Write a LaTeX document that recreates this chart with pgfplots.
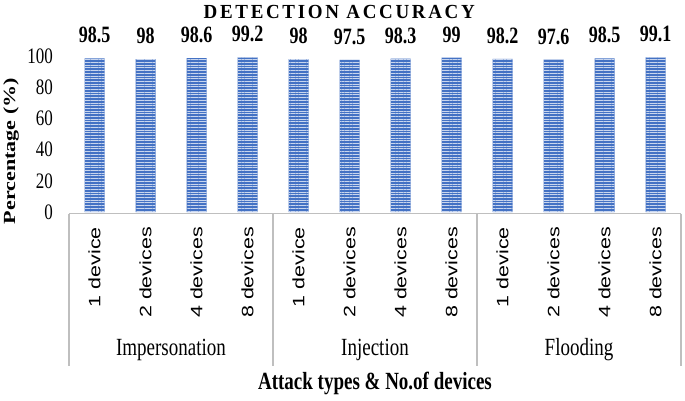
\documentclass[border=0pt]{standalone}
\usepackage{fontspec}
\setmainfont{Liberation Serif}
\setsansfont{Liberation Sans}
\newfontfamily\titlefont[LetterSpace=14]{Liberation Serif}
\usepackage{pgfplots}
\pgfplotsset{compat=1.18}
\usetikzlibrary{patterns.meta}
\definecolor{barblue}{HTML}{4472C4}
\definecolor{stripe}{HTML}{C9D6EE}
\definecolor{boxgray}{HTML}{BFBFBF}
% the source image is stretched vertically, so text is too
\newcommand\tall[2]{\scalebox{1}[#1]{#2}}
\newcommand\dev[1]{\scalebox{1.3}[1]{#1}}
\begin{document}
\begin{tikzpicture}
\begin{axis}[
    name=ax,
    scale only axis,
    width=612pt, height=156pt,
    xmin=-0.5, xmax=11.5, ymin=0, ymax=100,
    ybar, bar width=20pt,
    clip=false,
    axis line style={draw=none},
    major tick length=0pt,
    /pgf/number format/assume math mode=true,
    ytick={0,20,...,100},
    yticklabel={\tall{1.3}{\pgfmathprintnumber{\tick}}},
    yticklabel style={font=\fontsize{17}{20}\selectfont, anchor=east, inner sep=0pt, xshift=-16pt},
    xtick={0,...,11},
    xticklabels={\dev{1 device},\dev{2 devices},\dev{4 devices},\dev{8 devices},
                 \dev{1 device},\dev{2 devices},\dev{4 devices},\dev{8 devices},
                 \dev{1 device},\dev{2 devices},\dev{4 devices},\dev{8 devices}},
    xticklabel style={font=\sffamily\fontsize{16.5}{18}\selectfont, rotate=90, anchor=east, inner sep=0pt, xshift=-15pt},
    nodes near coords={\tall{1.3}{\pgfmathprintnumber{\pgfplotspointmeta}}},
    nodes near coords style={font=\bfseries\fontsize{18}{20}\selectfont, anchor=south, inner sep=0pt, yshift=15pt, text=black},
]
\addplot[fill=barblue, draw=none,
    postaction={pattern={Lines[angle=0,distance=2.7pt,line width=0.9pt]}, pattern color=stripe}]
  coordinates {(0,98.5) (1,98) (2,98.6) (3,99.2)
               (4,98) (5,97.5) (6,98.3) (7,99)
               (8,98.2) (9,97.6) (10,98.5) (11,99.1)};

% category box below the bars
\draw[boxgray, line width=1.5pt] ([yshift=-1.5pt]axis cs:-0.5,0) -- ([yshift=-1.5pt]axis cs:11.5,0);
\draw[boxgray, line width=1.5pt] ([yshift=-1.5pt]axis cs:-0.5,0) -- ([yshift=-153.5pt]axis cs:-0.5,0);
\draw[boxgray, line width=1.5pt] ([yshift=-1.5pt]axis cs:3.5,0) -- ([yshift=-153.5pt]axis cs:3.5,0);
\draw[boxgray, line width=1.5pt] ([yshift=-1.5pt]axis cs:7.5,0) -- ([yshift=-153.5pt]axis cs:7.5,0);
\draw[boxgray, line width=1.5pt] ([yshift=-1.5pt]axis cs:11.5,0) -- ([yshift=-153.5pt]axis cs:11.5,0);

\node[font=\fontsize{19}{22}\selectfont] at ([yshift=-138pt]axis cs:1.5,0) {\tall{1.3}{Impersonation}};
\node[font=\fontsize{19}{22}\selectfont] at ([yshift=-138pt]axis cs:5.5,0) {\tall{1.3}{Injection}};
\node[font=\fontsize{19}{22}\selectfont] at ([yshift=-138pt]axis cs:9.5,0) {\tall{1.3}{Flooding}};

\node[font=\bfseries\fontsize{19}{22}\selectfont] at ([yshift=-171pt]axis cs:5.5,0) {\tall{1.3}{Attack types \& No.of devices}};
\node[font=\bfseries\fontsize{17}{20}\selectfont, rotate=90] at ([shift={(-58pt,61pt)}]axis cs:-0.5,0) {\scalebox{1.3}[1]{Percentage (\%)}};
\node[font=\titlefont\bfseries\fontsize{19}{22}\selectfont] at ([yshift=200.5pt]axis cs:4.8,0) {\tall{1.05}{DETECTION ACCURACY}};
\end{axis}
\pgfresetboundingbox
\path (ax.south west) ++(-69pt,-188pt) rectangle ++(685pt,400pt);
\end{tikzpicture}
\end{document}
